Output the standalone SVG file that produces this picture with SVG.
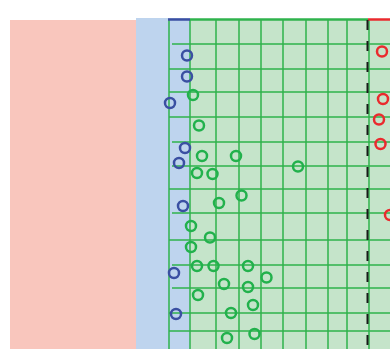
<svg xmlns="http://www.w3.org/2000/svg" width="390" height="349" viewBox="0 0 390 349">
<style>
.g{stroke:#2fb34c;stroke-width:1.5;fill:none}
.c{fill:none;stroke-width:2.5}
.cb{stroke:#3a4fa2}
.cg{stroke:#22b14c}
.cr{stroke:#ea2a2e}
</style>
<rect width="390" height="349" fill="#ffffff"/>
<g id="regions">
<rect x="10" y="20" width="126" height="329" fill="#f9c6bd"/>
<rect x="136" y="18" width="54" height="331" fill="#bed4ee"/>
<rect x="190" y="19" width="200" height="330" fill="#c5e4ca"/>
</g>
<g id="grid">
<path class="g" d="M169 20V349M190 20V349M216 20V349M239 20V349M261 20V349M283 20V349M306 20V349M328 20V349M347 20V349M369 20V349"/>
<path class="g" d="M172 44H390M169 69H390M169 92H390M169 117H390M172 142H390M172 166H390M169 189H390M172 213H390M169 240H390M172 265H390M172 288H390M169 313H390M169 331H390"/>
<line x1="168" y1="19.5" x2="190" y2="19.5" stroke="#3a4fa2" stroke-width="2.5"/>
<line x1="190" y1="19.5" x2="368" y2="19.5" stroke="#2fb34c" stroke-width="2.5"/>
<line x1="368" y1="19.5" x2="390" y2="19.5" stroke="#ea2a2e" stroke-width="2.5"/>
<line x1="367.5" y1="20" x2="367.5" y2="349" stroke="#1a1a1a" stroke-width="2" stroke-dasharray="10 11"/>
</g>
<g id="points">
<circle class="c cb" cx="187" cy="55.5" r="5"/>
<circle class="c cb" cx="187" cy="76.5" r="5"/>
<circle class="c cb" cx="170" cy="103" r="5"/>
<circle class="c cb" cx="185" cy="148" r="5"/>
<circle class="c cb" cx="179" cy="163" r="5"/>
<circle class="c cb" cx="183" cy="206" r="5"/>
<circle class="c cb" cx="174" cy="273" r="5"/>
<circle class="c cb" cx="176" cy="314" r="5"/>
<circle class="c cg" cx="193" cy="95" r="5"/>
<circle class="c cg" cx="199" cy="125.5" r="5"/>
<circle class="c cg" cx="202" cy="156" r="5"/>
<circle class="c cg" cx="236" cy="156" r="5"/>
<circle class="c cg" cx="298" cy="166.5" r="5"/>
<circle class="c cg" cx="197" cy="173" r="5"/>
<circle class="c cg" cx="212.5" cy="174" r="5"/>
<circle class="c cg" cx="241.5" cy="195.5" r="5"/>
<circle class="c cg" cx="219" cy="203" r="5"/>
<circle class="c cg" cx="191" cy="226" r="5"/>
<circle class="c cg" cx="210" cy="237.5" r="5"/>
<circle class="c cg" cx="191" cy="247" r="5"/>
<circle class="c cg" cx="197" cy="266" r="5"/>
<circle class="c cg" cx="213.5" cy="266" r="5"/>
<circle class="c cg" cx="248" cy="266" r="5"/>
<circle class="c cg" cx="266.5" cy="277.5" r="5"/>
<circle class="c cg" cx="224" cy="284" r="5"/>
<circle class="c cg" cx="248" cy="287" r="5"/>
<circle class="c cg" cx="198" cy="295" r="5"/>
<circle class="c cg" cx="253" cy="305" r="5"/>
<circle class="c cg" cx="231" cy="313" r="5"/>
<circle class="c cg" cx="227" cy="338" r="5"/>
<circle class="c cg" cx="254.5" cy="334" r="5"/>
<circle class="c cr" cx="382" cy="51.5" r="5"/>
<circle class="c cr" cx="383" cy="99" r="5"/>
<circle class="c cr" cx="379" cy="119.5" r="5"/>
<circle class="c cr" cx="380.5" cy="144" r="5"/>
<circle class="c cr" cx="390" cy="215" r="5"/>
</g>
</svg>
